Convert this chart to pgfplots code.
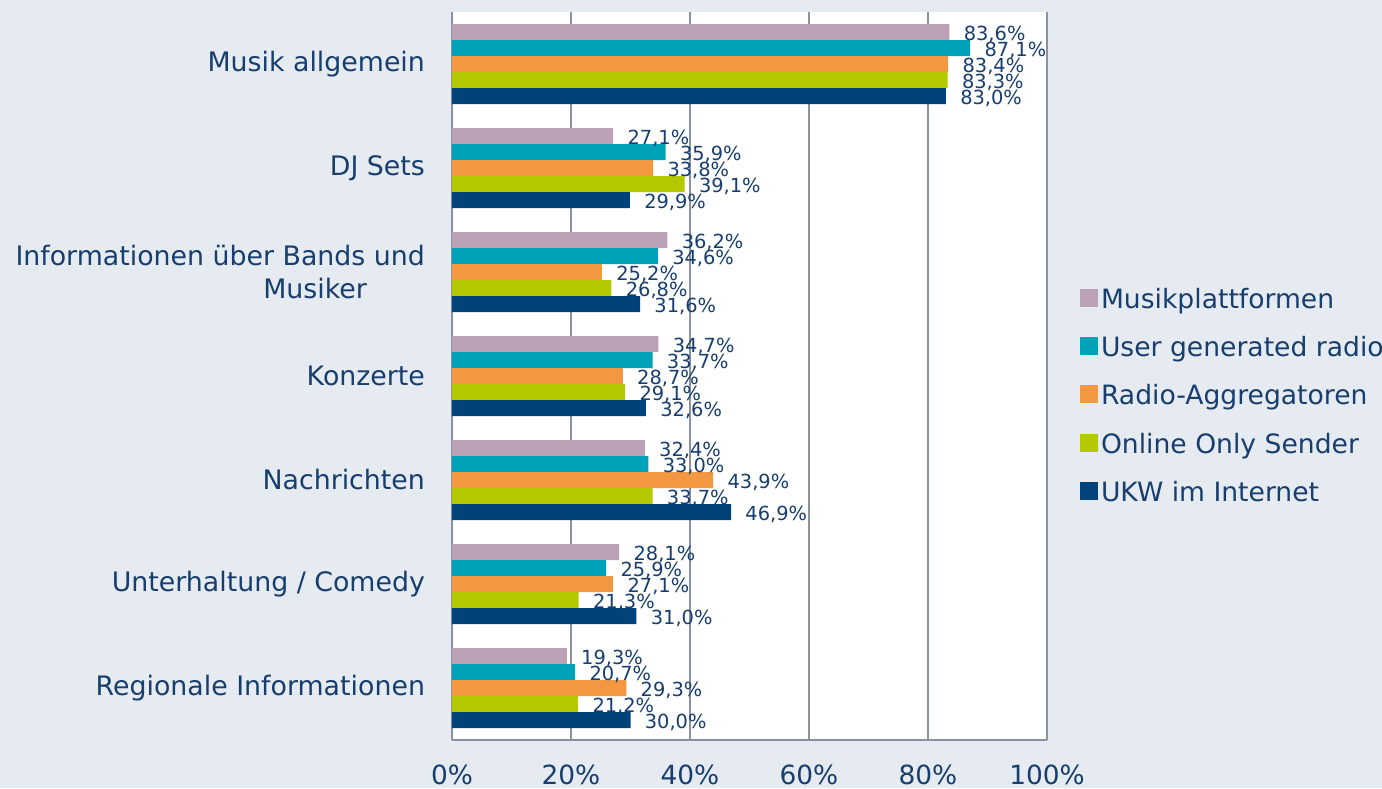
\documentclass[border=0pt]{standalone}
\usepackage{fontspec}
\setmainfont{DejaVu Sans}
\usepackage{pgfplots}
\pgfplotsset{compat=1.18}
\definecolor{bgc}{RGB}{229,235,240}
\definecolor{txt}{RGB}{23,62,110}
\definecolor{grd}{RGB}{138,145,160}
\definecolor{c1}{RGB}{187,161,181}
\definecolor{c2}{RGB}{0,162,185}
\definecolor{c3}{RGB}{243,152,65}
\definecolor{c4}{RGB}{181,201,0}
\definecolor{c5}{RGB}{0,67,122}
\begin{document}
\begin{tikzpicture}
\useasboundingbox (0,0) rectangle (691pt,394pt);
\fill[bgc] (0,0) rectangle (691pt,394pt);
\begin{axis}[
 at={(226pt,24pt)}, anchor=south west,
 scale only axis, width=297.5pt, height=364pt,
 xbar, bar width=8pt,
 xmin=0, xmax=100, ymin=-0.5, ymax=6.5,
 axis background/.style={fill=white},
 axis x line*=bottom, axis y line*=left,
 axis line style={-, grd, line width=1pt},
 xmajorgrids, grid style={grd, line width=1pt},
 major tick length=0pt,
 xtick={0,20,...,100},
 xticklabel={\pgfmathprintnumber{\tick}\%},
 ytick={0,...,6},
 yticklabels={Regionale Informationen, Unterhaltung / Comedy, Nachrichten, Konzerte, {Informationen über Bands und\\Musiker\hspace*{29pt}}, DJ Sets, Musik allgemein},
 yticklabel style={align=right, font=\fontsize{13.4}{16.5}\selectfont, text=txt, xshift=-10pt},
 xticklabel style={font=\fontsize{13.2}{16}\selectfont, text=txt, yshift=-9pt},
 /pgf/number format/assume math mode=true,
 nodes near coords={\pgfmathprintnumber[fixed,fixed zerofill,precision=1,use comma]{\pgfplotspointmeta}\%},
 point meta=x,
 every node near coord/.append style={font=\fontsize{9.7}{10}\selectfont, text=txt, anchor=west, inner sep=0pt, xshift=7pt, yshift=-1pt},
 legend style={at={(1.0555,0.626)}, anchor=north west, draw=none, fill=none, inner sep=0pt, outer sep=0pt,
   font=\fontsize{13.3}{16}\selectfont, text=txt, cells={anchor=west}, row sep=8.5pt,
   /tikz/every odd column/.append style={column sep=-0.5pt}},
 legend image code/.code={\fill[#1] (0pt,-3.5pt) rectangle (9pt,5.5pt);},
]
\addplot[fill=c1, draw=none, bar shift=16pt] coordinates {(83.6,6) (27.1,5) (36.2,4) (34.7,3) (32.4,2) (28.1,1) (19.3,0)};
\addplot[fill=c2, draw=none, bar shift=8pt] coordinates {(87.1,6) (35.9,5) (34.6,4) (33.7,3) (33.0,2) (25.9,1) (20.7,0)};
\addplot[fill=c3, draw=none, bar shift=0pt] coordinates {(83.4,6) (33.8,5) (25.2,4) (28.7,3) (43.9,2) (27.1,1) (29.3,0)};
\addplot[fill=c4, draw=none, bar shift=-8pt] coordinates {(83.3,6) (39.1,5) (26.8,4) (29.1,3) (33.7,2) (21.3,1) (21.2,0)};
\addplot[fill=c5, draw=none, bar shift=-16pt] coordinates {(83.0,6) (29.9,5) (31.6,4) (32.6,3) (46.9,2) (31.0,1) (30.0,0)};
\legend{Musikplattformen, User generated radio, Radio-Aggregatoren, Online Only Sender, UKW im Internet}
\end{axis}
\end{tikzpicture}
\end{document}
